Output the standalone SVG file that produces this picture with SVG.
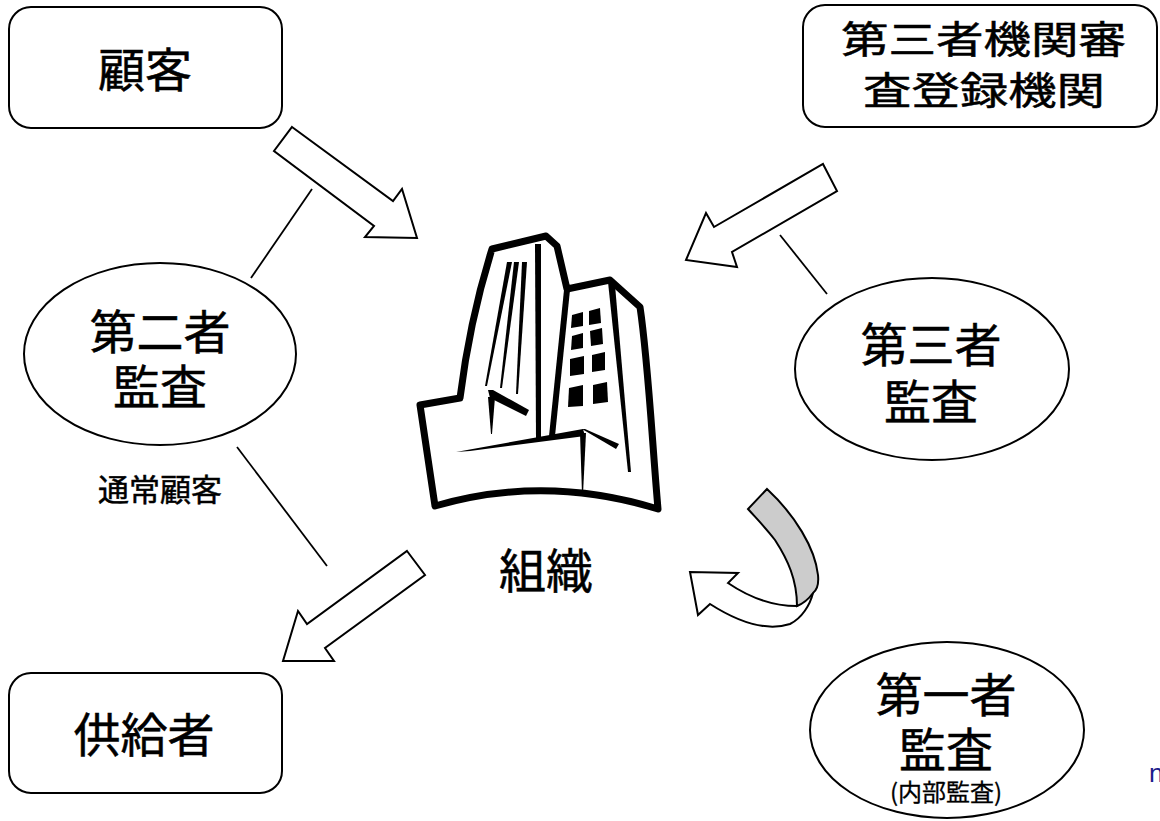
<svg xmlns="http://www.w3.org/2000/svg" width="1160" height="821" viewBox="0 0 1160 821">
  <style>
    .box { fill: #ffffff; stroke: #000000; stroke-width: 2; }
    .oval { fill: #ffffff; stroke: #000000; stroke-width: 2; }
    .big { font-family: "Noto Sans CJK JP", "Noto Sans", sans-serif; font-size: 47px; fill: #000000; stroke: #000000; stroke-width: 0.5; text-anchor: middle; }
    .small { font-family: "Noto Sans CJK JP", "Noto Sans", sans-serif; fill: #000000; stroke: #000000; stroke-width: 0.5; text-anchor: middle; }
    .wide { font-family: "Noto Sans CJK JP", "Noto Sans", sans-serif; font-size: 38px; fill: #000000; stroke: #000000; stroke-width: 0.5; }
    .link { stroke: #000000; stroke-width: 1.8; fill: none; }
    .blk { fill: #ffffff; stroke: #000000; stroke-width: 2; stroke-linejoin: miter; }
    .ink { fill: #000000; stroke: none; }
  </style>
  <rect width="1160" height="821" fill="#ffffff"/>

  <!-- connectors: plain lines and block arrows -->
  <g id="connectors">
    <line class="link" x1="312" y1="189" x2="251" y2="278"/>
    <line class="link" x1="237" y1="447" x2="327" y2="566"/>
    <line class="link" x1="780" y1="235" x2="827" y2="294"/>
    <polygon class="blk" points="292,127 393,201 402,189 417,238 365,237 374,226 274,151"/>
    <polygon class="blk" points="823,164 837,191 732,252 737,267 686,260 706,213 714,227"/>
    <polygon class="blk" points="407,551 425,575 325,648 334,661 283,661 298,611 307,624"/>
    <!-- curved self-audit arrow -->
    <path class="blk" d="M 797,606 C 775,606 750,598 728,583 L 738,573 L 690,572 L 698,615 L 710,604 C 735,620 765,632 790,624 C 802,618 810,605 813,593 Z"/>
    <path class="blk" style="fill:#cccccc" d="M 767,489 C 795,515 815,548 818,575 C 819,585 817,590 813,593 C 808,600 802,604 797,606 C 797,580 788,560 775,540 C 765,527 756,518 748,509 Z"/>
  </g>

  <g id="node-customer">
    <rect class="box" x="9" y="7" width="273" height="121" rx="22"/>
    <text class="big" x="145" y="87">顧客</text>
  </g>

  <g id="node-registrar">
    <rect class="box" x="803" y="5" width="354" height="122" rx="22"/>
    <text class="wide"><tspan x="841" y="53" textLength="285" lengthAdjust="spacingAndGlyphs">第三者機関審</tspan><tspan x="863" y="104" textLength="242" lengthAdjust="spacingAndGlyphs">査登録機関</tspan></text>
  </g>

  <g id="node-supplier">
    <rect class="box" x="9" y="673" width="273" height="120" rx="22"/>
    <text class="big" x="144" y="752">供給者</text>
  </g>

  <g id="node-second-party">
    <ellipse class="oval" cx="160" cy="354" rx="136" ry="91"/>
    <text class="big"><tspan x="160" y="349">第二者</tspan><tspan x="160" y="404">監査</tspan></text>
  </g>

  <g id="label-usual-customer">
    <text class="small" x="160" y="501" style="font-size:31px">通常顧客</text>
  </g>

  <g id="node-third-party">
    <ellipse class="oval" cx="932" cy="369" rx="137" ry="91"/>
    <text class="big"><tspan x="931" y="362">第三者</tspan><tspan x="931" y="419">監査</tspan></text>
  </g>

  <g id="node-first-party">
    <ellipse class="oval" cx="947" cy="730" rx="137" ry="88"/>
    <text class="big"><tspan x="946" y="712">第一者</tspan><tspan x="946" y="767">監査</tspan><tspan x="946" y="801" style="font-size:24px;stroke-width:0.3">(内部監査)</tspan></text>
  </g>

  <g id="node-organization">
    <!-- building silhouette -->
    <path fill="#ffffff" stroke="#000000" stroke-width="7" stroke-linejoin="round"
          d="M 420,405 L 460,398 C 466,350 476,300 492,249 L 546,236 L 557,246 L 567,289 L 610,280 L 640,307 C 648,360 652,440 658,509 Q 545,474 435,506 Z"/>
    <!-- tower edges and facets -->
    <polygon class="ink" points="535,244 541,244 541,438 536,438"/>
    <polygon class="ink" points="564,290 570,290 555,436 549,436"/>
    <polygon class="ink" points="608,282 615,285 631,472 628,472"/>
    <polygon class="ink" points="507,262 512,262 487,386 485,386"/>
    <polygon class="ink" points="514,262 519,262 502,388 500,388"/>
    <polygon class="ink" points="522,262 527,262 518,394 516,394"/>
    <!-- windows -->
    <polygon class="ink" points="572,315 583,312 583,326 571,328"/>
    <polygon class="ink" points="589,311 600,308 601,323 589,325"/>
    <polygon class="ink" points="572,336 583,333 583,348 571,350"/>
    <polygon class="ink" points="590,331 602,328 603,344 591,346"/>
    <polygon class="ink" points="570,359 584,356 584,374 570,376"/>
    <polygon class="ink" points="592,355 605,352 605,370 592,372"/>
    <polygon class="ink" points="569,388 583,385 583,406 568,407"/>
    <polygon class="ink" points="593,385 607,382 608,402 593,404"/>
    <!-- low front block -->
    <polygon class="ink" points="488,390 493,390 529,410 526,416 490,398"/>
    <polygon class="ink" points="488,397 495,397 492,434 491,434"/>
    <polygon class="ink" points="456,452 583,429 585,436 470,451"/>
    <polygon class="ink" points="582,429 585,429 619,444 616,449"/>
    <polygon class="ink" points="580,433 586,433 583,494 582,494"/>
    <text class="big" x="546" y="588">組織</text>
  </g>

  <text x="1149" y="782" style="font-family:'Liberation Sans',sans-serif;font-size:26px;fill:#1c1c8c">n</text>
</svg>
